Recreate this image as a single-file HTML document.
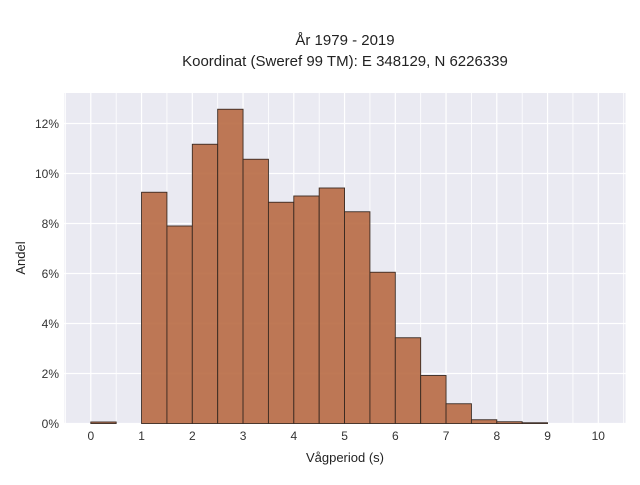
<!DOCTYPE html>
<html><head><meta charset="utf-8"><style>
body{margin:0;background:#fff;font-family:"Liberation Sans",sans-serif}
</style></head><body>
<svg width="640" height="480" xmlns="http://www.w3.org/2000/svg">
<rect x="0" y="0" width="640" height="480" fill="#fff"/>
<text x="345" y="45" text-anchor="middle" font-size="15" fill="#222">År 1979 - 2019</text>
<text x="345" y="66" text-anchor="middle" font-size="15" fill="#222">Koordinat (Sweref 99 TM): E 348129, N 6226339</text>
<rect x="64.5" y="93" width="561" height="330.5" fill="#eaeaf2"/>
<g id="grid"></g>
<g id="bars"></g>
<g id="ticks"></g>
<text x="345" y="462" text-anchor="middle" font-size="13" fill="#222">Vågperiod (s)</text>
<text transform="translate(25,258) rotate(-90)" text-anchor="middle" font-size="13" fill="#222">Andel</text>
</svg>
<script>
const binStarts=[0,0.5,1,1.5,2,2.5,3,3.5,4,4.5,5,5.5,6,6.5,7,7.5,8,8.5,9,9.5];
const shares=[0.06,0,9.25,7.9,11.17,12.57,10.57,8.85,9.1,9.42,8.47,6.05,3.43,1.92,0.79,0.15,0.07,0.03,0,0];
const xTicks=[0,1,2,3,4,5,6,7,8,9,10];
const yTicks=[0,2,4,6,8,10,12];
const yTickLabels=["0%","2%","4%","6%","8%","10%","12%"];
const binWidth=0.5;
const NS="http://www.w3.org/2000/svg";
const X=v=>90.8+v*50.75;
const Y=v=>423.5-v*25;
function mk(t,a,p){const e=document.createElementNS(NS,t);for(const k in a)e.setAttribute(k,a[k]);p.appendChild(e);return e;}
const g=document.getElementById('grid'),b=document.getElementById('bars'),tk=document.getElementById('ticks');
for(let v=-0.5;v<=10.5;v+=0.5){const x=X(v);if(x<64.5||x>625.5)continue;
const l=mk('line',{x1:x,x2:x,y1:93,y2:423.5,stroke:'#fff','stroke-width':Number.isInteger(v)?1.2:0.8},g);

}
yTicks.forEach((v,i)=>{const l=mk('line',{x1:64.5,x2:625.5,y1:Y(v),y2:Y(v),stroke:'#fff','stroke-width':1.2},g);


const t=mk('text',{x:59,y:Y(v)+4.5,'text-anchor':'end','font-size':12,fill:'#333'},tk);t.textContent=yTickLabels[i];

});
xTicks.forEach(v=>{const t=mk('text',{x:X(v),y:440,'text-anchor':'middle','font-size':12,fill:'#333'},tk);t.textContent=v;

});
binStarts.forEach((s,i)=>{if(shares[i]<=0)return;
const r=mk('rect',{x:X(s),y:Y(shares[i]),width:X(s+binWidth)-X(s),height:Y(0)-Y(shares[i]),fill:'#b86a44','fill-opacity':0.9,stroke:'#3a2a22','stroke-width':0.9},b);

});
</script>
</body></html>
